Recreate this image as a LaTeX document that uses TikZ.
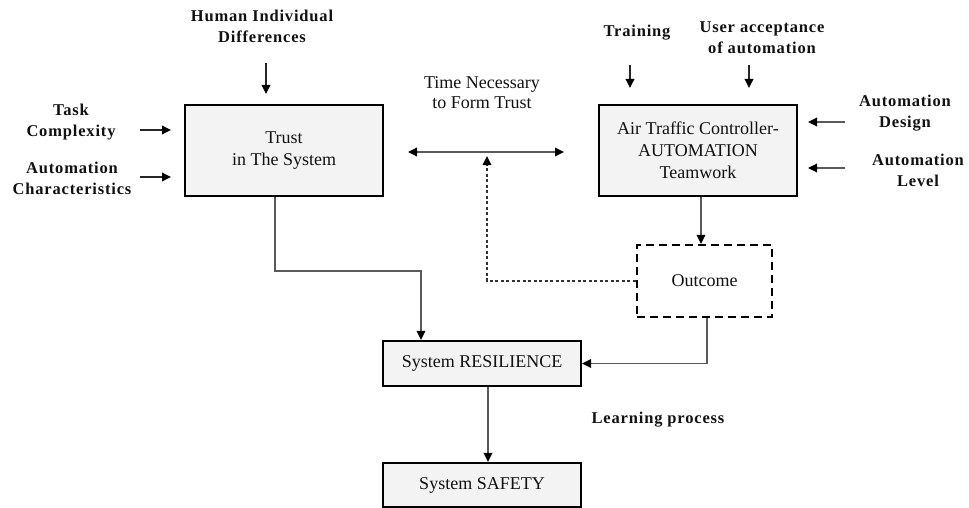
\documentclass[tikz,border=0pt]{standalone}
\usepackage{fontspec}
\setmainfont{Liberation Serif}
\newfontfamily\labelfont[LetterSpace=5]{Liberation Serif}
\usetikzlibrary{arrows.meta}

\definecolor{boxfill}{HTML}{F3F3F3}
\definecolor{linegray}{HTML}{5A5A5A}
\definecolor{inkcol}{HTML}{111111}

\tikzset{
  box/.style={draw=black, line width=2.2pt, fill=boxfill, inner sep=0pt,
    align=center, text=inkcol, font=\fontsize{18}{22}\selectfont},
  dashbox/.style={draw=black, line width=2.2pt, fill=white, inner sep=0pt,
    dash pattern=on 8pt off 5pt, align=center, text=inkcol,
    font=\fontsize{18}{22}\selectfont},
  factor/.style={align=center, text=inkcol, inner sep=0pt,
    font=\labelfont\bfseries\fontsize{16.5}{21}\selectfont},
  plain/.style={align=center, text=inkcol, inner sep=0pt,
    font=\fontsize{18}{19.5}\selectfont},
  conn/.style={draw=linegray, line width=1.8pt,
    -{Triangle[length=9pt,width=8.5pt,color=black]}},
  twoway/.style={draw=linegray, line width=1.8pt,
    {Triangle[length=9pt,width=8.5pt,color=black]}-{Triangle[length=9pt,width=8.5pt,color=black]}},
  shortarrow/.style={draw=black!85, line width=1.8pt,
    -{Triangle[length=9pt,width=8.5pt,color=black]}},
  feedback/.style={draw=black!80, line width=1.3pt,
    dash pattern=on 3pt off 2.5pt,
    -{Triangle[length=9pt,width=8.5pt,color=black]}},
}

\begin{document}
\begin{tikzpicture}[x=1pt, y=-1pt]
\useasboundingbox (0,0) rectangle (969,508);

% main boxes
\node[box, minimum width=198pt, minimum height=91pt] (trust) at (284,150.5)
  {Trust\\in The System};
\node[box, minimum width=198pt, minimum height=91pt] (atc) at (698,150.5)
  {Air Traffic Controller-\\AUTOMATION\\Teamwork};
\node[dashbox, minimum width=135pt, minimum height=72pt] (outcome) at (704.5,281)
  {Outcome};
\node[box, minimum width=198pt, minimum height=45pt] (resil) at (482,363.5)
  {System RESILIENCE};
\node[box, minimum width=198pt, minimum height=44pt] (safety) at (482,485)
  {System SAFETY};

% influencing factors
\node[factor] (human) at (262,26) {Human Individual\\Differences};
\node[factor] (task) at (71,122.5) {Task\\Complexity};
\node[factor] (autochar) at (72,178.5) {Automation\\Characteristics};
\node[factor] (training) at (637,33) {Training};
\node[factor] (useracc) at (762,38) {User acceptance\\of automation};
\node[factor] (autodesign) at (905,113.5) {Automation\\Design};
\node[factor] (autolevel) at (918,170) {Automation\\Level};
\node[factor] (learning) at (658,420) {Learning process};
\node[plain] (timetrust) at (482,92.5) {Time Necessary\\to Form Trust};

% free ends of the short arrows
\coordinate (humanA) at (266,63);   \coordinate (humanB) at (266,94);
\coordinate (taskA) at (140,130);   \coordinate (taskB) at (171,130);
\coordinate (charA) at (140,177);   \coordinate (charB) at (171,177);
\coordinate (trainA) at (630,65);   \coordinate (trainB) at (630,88);
\coordinate (accA) at (749,65);     \coordinate (accB) at (749,88);
\coordinate (designA) at (845,122); \coordinate (designB) at (808,122);
\coordinate (levelA) at (845,168);  \coordinate (levelB) at (808,168);
\coordinate (timeL) at (408,152);   \coordinate (timeR) at (564,152);
\coordinate (timeTip) at (487,156);

\draw[shortarrow] (humanA) -- (humanB);
\draw[shortarrow] (taskA) -- (taskB);
\draw[shortarrow] (charA) -- (charB);
\draw[shortarrow] (trainA) -- (trainB);
\draw[shortarrow] (accA) -- (accB);
\draw[shortarrow, draw=linegray] (designA) -- (designB);
\draw[shortarrow, draw=linegray] (levelA) -- (levelB);

% trust formation time
\draw[twoway] (timeL) -- (timeR);

% main flow
\draw[conn] ([xshift=-9pt]trust.south) -- ++(0,74) -| ([xshift=-61pt]resil.north);
\draw[conn] ([xshift=3pt]atc.south) -- ([xshift=3pt]atc.south |- outcome.north);
\draw[conn] ([xshift=2.5pt]outcome.south) |- (resil.east);
\draw[conn] ([xshift=6pt]resil.south) -- ([xshift=6pt]safety.north);

% feedback from the outcome
\draw[feedback] (outcome.west) -| (timeTip);
\end{tikzpicture}
\end{document}
